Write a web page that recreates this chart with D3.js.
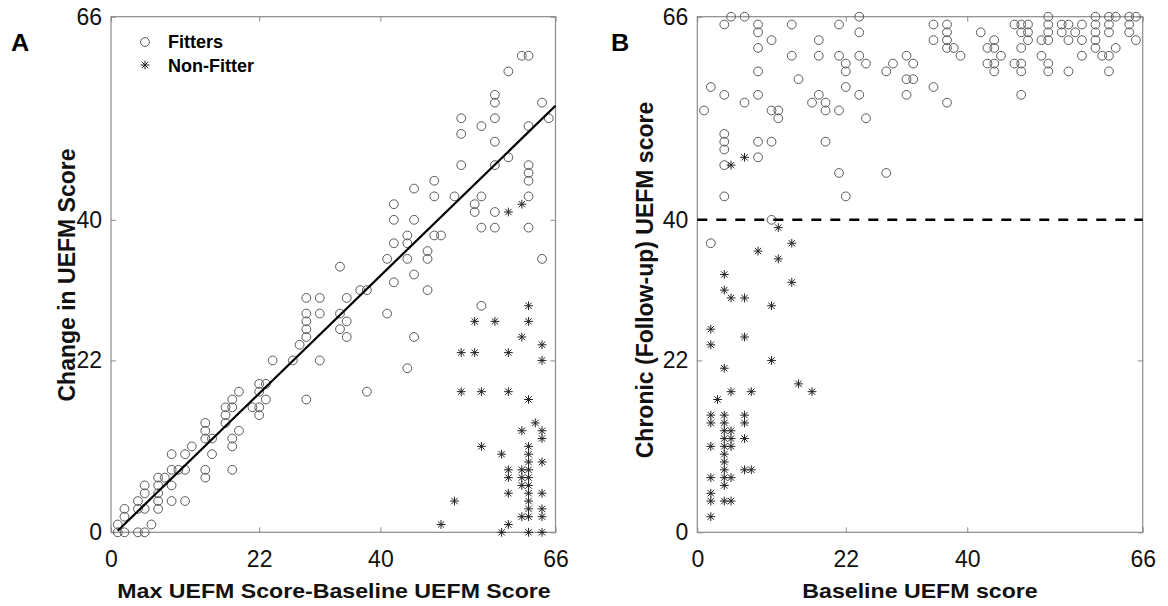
<!DOCTYPE html>
<html><head><meta charset="utf-8">
<script src="https://cdn.jsdelivr.net/npm/d3@7"></script>
<style>
body{margin:0;background:#fff;}
svg{display:block;font-family:Arial,"Liberation Sans",sans-serif;}
</style></head><body>
<svg id="c" width="1168" height="606"></svg>
<script>
// ---- DATA ----
const tickValues = [0, 22, 40, 66];
const domainMax = 66;

// Panel A: Fitters (x = Max - Baseline, y = change)
const fittersA_x = [1,2,2,1,2,4,5,6,4,4,5,5,5,7,7,7,7,7,8,9,9,9,9,10,11,11,11,12,14,14,14,14,14,15,15,17,17,17,18,18,18,18,18,19,19,21,22,22,22,22,23,23,24,27,28,29,29,29,29,29,29,31,31,31,34,34,35,35,34,35,37,38,38,41,41,42,42,42,42,44,44,44,44,45,45,45,45,47,47,47,48,48,48,49,51,52,54,54,55,55,55,57,57,57,59,62,62,62,62,62,64,61,62,59,57,57,64,52,52,55,57,57,62,65];
const fittersA_y = [1,3,2,0,0,0,0,1,3,4,5,6,3,7,6,5,4,3,7,8,10,6,4,8,10,8,4,11,14,13,12,8,7,12,10,16,15,14,17,16,12,11,8,18,13,16,19,18,16,15,19,17,22,22,24,25,26,27,28,30,17,22,28,30,28,26,27,25,34,30,31,31,18,35,28,42,40,37,32,38,37,35,21,44,40,33,25,36,35,31,45,43,38,38,43,47,42,41,43,39,29,47,41,39,48,47,46,45,43,39,35,61,61,59,56,55,55,53,51,52,53,50,52,53];
// Panel A: Non-Fitters
const nonFittersA_x = [59,61,62,54,57,62,61,64,52,54,59,64,52,55,59,62,63,61,64,64,55,62,62,62,62,62,62,62,62,62,62,58,59,59,61,61,61,64,59,64,51,61,64,64,49,59,58,62,64];
const nonFittersA_y = [41,42,29,27,27,27,25,24,23,23,23,22,18,18,18,17,14,13,13,12,11,11,10,9,8,7,6,5,4,3,2,10,8,7,8,7,6,9,5,5,4,2,3,2,1,1,0,0,0];
// Regression line in panel A
const fitLineX = [1, 66];
const fitLineY = [0.2, 54.6];

// Panel B: Fitters (x = baseline, y = chronic)
const fittersB_x = [5,7,4,9,9,9,9,9,9,9,11,11,11,12,12,14,14,15,17,18,18,18,19,19,19,21,21,21,21,22,22,22,22,24,24,24,24,25,25,28,29,28,1,2,4,7,4,4,4,4,4,31,32,31,32,31,35,35,35,37,37,37,37,38,39,37,42,43,43,44,44,44,44,45,47,47,48,48,48,52,59,61,62,64,65,48,49,52,54,55,57,59,61,64,49,52,54,56,59,61,64,49,51,52,55,57,59,65,48,59,62,60,61,57,51,48,52,52,55,61,11,2];
const fittersB_y = [66,66,65,65,64,62,59,56,50,48,63,50,54,54,53,65,61,58,55,63,61,56,55,54,50,65,61,54,46,60,59,57,43,66,64,61,56,60,53,59,60,46,54,57,56,55,51,50,49,47,43,61,60,58,58,56,65,63,57,65,64,63,62,62,61,55,64,62,60,63,62,60,59,61,65,60,64,59,56,66,66,66,66,66,66,65,65,65,65,65,65,65,65,65,64,64,64,64,64,64,64,63,63,63,63,63,63,63,62,62,62,61,61,61,61,60,60,59,59,59,40,37];
// Panel B: Non-Fitters
const nonFittersB_x = [5,7,12,14,9,12,4,14,4,5,7,11,2,2,7,4,11,15,17,5,8,3,2,2,4,4,7,7,4,5,4,5,7,2,4,5,4,4,4,7,8,2,4,5,4,2,2,4,5,2];
const nonFittersB_y = [47,48,39,37,36,35,33,32,31,30,30,29,26,24,25,21,22,19,18,18,18,17,15,14,15,14,15,14,13,13,12,12,12,11,11,11,10,9,8,8,8,7,7,7,6,5,4,4,4,2];
const thresholdB = 40;

// ---- DRAW ----
const svg = d3.select("#c");
const yTop = 16.7, yBot = 532.3;
const y = d3.scaleLinear([0, domainMax], [yBot, yTop]);
const xA = d3.scaleLinear([0, domainMax], [111, 555.5]);
const xB = d3.scaleLinear([0, domainMax], [697.3, 1142.7]);

const circleColor = "#5a5a5a";
const starColor = "#222";
const starPath = (r) => {
  const d = r * 0.72;
  return `M0,${-r}V${r}M${-r},0H${r}M${-d},${-d}L${d},${d}M${-d},${d}L${d},${-d}`;
};

function panel(x, fx, fy, nx, ny) {
  const g = svg.append("g");
  g.append("rect").attr("x", x(0)).attr("y", y(domainMax))
    .attr("width", x(domainMax) - x(0)).attr("height", y(0) - y(domainMax))
    .attr("fill", "none").attr("stroke", "#8a8a8a").attr("stroke-width", 1.2);
  const styleAxis = (sel, labels) => {
    sel.select(".domain").remove();
    sel.selectAll(".tick line").attr("stroke", "#8a8a8a");
    sel.selectAll(".tick text").attr("fill", "#111").style("font-size", "23px")
      .style("font-family", "Arial, 'Liberation Sans', sans-serif");
    if (!labels) sel.selectAll(".tick text").remove();
  };
  g.append("g").attr("transform", `translate(0,${y(0)})`)
    .call(d3.axisBottom(x).tickValues(tickValues).tickSize(-5).tickPadding(18))
    .call(s => styleAxis(s, true));
  g.append("g").attr("transform", `translate(0,${y(domainMax)})`)
    .call(d3.axisTop(x).tickValues(tickValues).tickSize(-5))
    .call(s => styleAxis(s, false));
  g.append("g").attr("transform", `translate(${x(0)},0)`)
    .call(d3.axisLeft(y).tickValues(tickValues).tickSize(-5).tickPadding(9))
    .call(s => styleAxis(s, true));
  g.append("g").attr("transform", `translate(${x(domainMax)},0)`)
    .call(d3.axisRight(y).tickValues(tickValues).tickSize(-5))
    .call(s => styleAxis(s, false));

  g.append("g").selectAll("circle").data(d3.range(fx.length)).join("circle")
    .attr("cx", i => x(fx[i])).attr("cy", i => y(fy[i])).attr("r", 4.4)
    .attr("fill", "none").attr("stroke", circleColor).attr("stroke-width", 1);
  g.append("g").selectAll("path").data(d3.range(nx.length)).join("path")
    .attr("transform", i => `translate(${x(nx[i])},${y(ny[i])})`)
    .attr("d", starPath(4.4)).attr("fill", "none")
    .attr("stroke", starColor).attr("stroke-width", 1);
  return g;
}

const gA = panel(xA, fittersA_x, fittersA_y, nonFittersA_x, nonFittersA_y);
gA.append("line").attr("x1", xA(fitLineX[0])).attr("y1", y(fitLineY[0]))
  .attr("x2", xA(fitLineX[1])).attr("y2", y(fitLineY[1]))
  .attr("stroke", "#000").attr("stroke-width", 2.2);

const gB = panel(xB, fittersB_x, fittersB_y, nonFittersB_x, nonFittersB_y);
gB.append("line").attr("x1", xB(0)).attr("x2", xB(domainMax))
  .attr("y1", y(thresholdB)).attr("y2", y(thresholdB))
  .attr("stroke", "#000").attr("stroke-width", 2.5).attr("stroke-dasharray", "10,9");

// legend
const lg = svg.append("g");
lg.append("circle").attr("cx", 145).attr("cy", 42).attr("r", 4.4)
  .attr("fill", "none").attr("stroke", circleColor);
lg.append("path").attr("transform", "translate(145,65)").attr("d", starPath(4.4))
  .attr("fill", "none").attr("stroke", starColor);
lg.append("text").attr("x", 168).attr("y", 48).text("Fitters")
  .style("font-size", "18px").style("font-weight", "bold");
lg.append("text").attr("x", 168).attr("y", 72).text("Non-Fitter")
  .style("font-size", "18px").style("font-weight", "bold");

// panel letters
svg.append("text").attr("transform", "translate(11,51) scale(1.1,1)").text("A")
  .style("font-size", "23px").style("font-weight", "bold");
svg.append("text").attr("transform", "translate(611,51) scale(1.1,1)").text("B")
  .style("font-size", "23px").style("font-weight", "bold");

// axis titles
const hTitle = (t, xPos, yPos) => svg.append("text")
  .attr("transform", `translate(${xPos},${yPos}) scale(1.2,1)`)
  .attr("text-anchor", "middle").text(t)
  .style("font-size", "19.3px").style("font-weight", "bold").attr("fill", "#111");
const vTitle = (t, xPos, yPos) => svg.append("text")
  .attr("transform", `translate(${xPos},${yPos}) rotate(-90)`)
  .attr("text-anchor", "middle").text(t)
  .style("font-size", "23px").style("font-weight", "bold").attr("fill", "#111");
hTitle("Max UEFM Score-Baseline UEFM Score", 334, 598);
vTitle("Change in UEFM Score", 75, 275);
hTitle("Baseline UEFM score", 920, 598);
vTitle("Chronic (Follow-up) UEFM score", 653, 280);
</script>
</body></html>
